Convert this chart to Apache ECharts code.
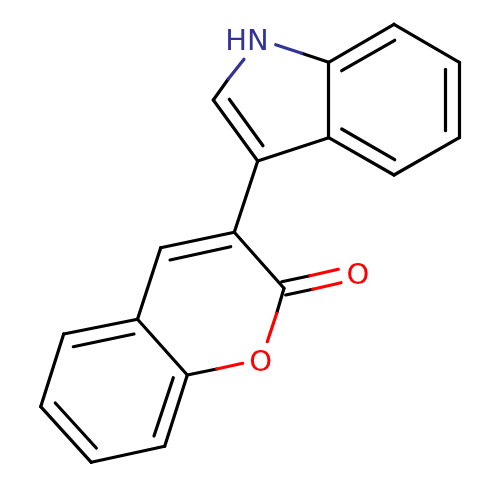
<!DOCTYPE html>
<html><head><meta charset="utf-8">
<style>html,body{margin:0;padding:0;background:#fff}#c{width:500px;height:500px}</style>
<script src="https://cdn.jsdelivr.net/npm/echarts@6/dist/echarts.min.js"></script>
</head><body><div id="c"></div>
<script>
const blackBonds = [
 [[213.3,100],[257.7,161]],[[229.3,99.3],[263,145.7]],
 [[257.7,161],[328.7,137.7]],[[328.7,137.7],[328.7,62.3]],
 [[328.7,62.3],[394,24.3]],[[341.7,70.7],[394.7,40.3]],
 [[394,24.3],[459.3,62.3]],[[459.3,62.3],[459.3,137.7]],[[445.7,69.3],[445.7,130.7]],
 [[459.3,137.7],[394,175]],[[394,175],[328.7,137.7]],[[341.7,129],[394.7,159.7]],
 [[328.7,62.3],[301.7,53.3]],[[213.3,100],[228.3,79]],
 [[257.7,161],[234.3,232.3]],
 [[234.3,232.3],[160.7,247.7]],[[170,260],[230.7,246.7]],
 [[160.7,247.7],[137.5,319.3]],[[137.5,319.3],[187.3,375]],
 [[234.3,232.3],[284,288.3]],
 [[281.7,281.7],[310,275.7]],[[285.7,295],[312.7,289.3]],
 [[284,288.3],[276.7,313.3]],[[187.3,375],[216.7,369]],
 [[137.5,319.3],[63.7,334]],[[73.3,346.7],[134,334]],
 [[63.7,334],[40.7,406.7]],[[40.7,406.7],[91.3,462.3]],[[55.3,403],[96.3,448]],
 [[91.3,462.3],[164.7,446.3]],[[164.7,446.3],[187.3,375]],[[154,436],[173.3,377.7]]
];
const blueBonds = [
 [[301.7,53.3],[275.7,44.7]],[[228.3,79],[244,59.3]]
];
const redBonds = [
 [[310,275.7],[338.3,269.3]],[[312.7,289.3],[341,282.7]],
 [[276.7,313.3],[267.3,341.7]],[[216.7,369],[242.7,363.3]]
];
const blueAtoms = [[247,42.5,'HN']];
const redAtoms = [[260.7,363.5,'O'],[358,276.5,'O']];
const BLACK='#000000',BLUE='#333399',RED='#FF0000';
const bondSeries=(segs,color)=>({type:'lines',coordinateSystem:'cartesian2d',polyline:false,silent:true,
  lineStyle:{color,width:3.2,opacity:1,curveness:0,cap:'round'},symbol:'none',
  data:segs.map(s=>({coords:s}))});
const atomSeries=(atoms,color)=>({type:'scatter',symbolSize:0,silent:true,itemStyle:{opacity:1},data:atoms.map(a=>({value:[a[0],a[1]],name:a[2]})),
  label:{show:true,position:'inside',formatter:p=>p.name,color,opacity:1,fontFamily:'DejaVu Sans',fontSize:29,align:'center',verticalAlign:'middle',textBorderWidth:0}});
const chart=echarts.init(document.getElementById('c'),null,{renderer:'canvas'});
chart.setOption({animation:false,backgroundColor:'#fff',
  grid:{left:0,top:0,width:500,height:500},
  xAxis:{type:'value',min:0,max:500,show:false},
  yAxis:{type:'value',min:0,max:500,inverse:true,show:false},
  series:[bondSeries(blackBonds,BLACK),bondSeries(blueBonds,BLUE),bondSeries(redBonds,RED),
    atomSeries(blueAtoms,BLUE),atomSeries(redAtoms,RED)]});
</script></body></html>
